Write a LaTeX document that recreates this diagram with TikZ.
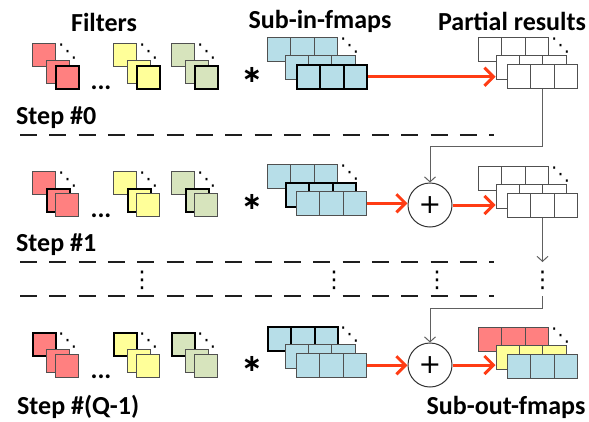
\documentclass[tikz,border=0pt]{standalone}
\usepackage{fontspec}
\newfontfamily\lbl{Carlito}
\newfontfamily\symf{DejaVu Sans}
\usetikzlibrary{arrows.meta,calc}

\definecolor{fred}{HTML}{FF8080}
\definecolor{fyellow}{HTML}{FFFF99}
\definecolor{fgreen}{HTML}{D7E4BD}
\definecolor{fblue}{HTML}{B7DEE8}
\definecolor{edge}{HTML}{505050}
\definecolor{conn}{HTML}{606060}
\definecolor{arrowred}{HTML}{FF3C14}
\definecolor{dashc}{HTML}{1E1E1E}

\tikzset{
  sq/.style={rectangle, minimum size=23pt, inner sep=0pt, anchor=north west},
  cellrow/.style={rectangle, minimum width=70pt, minimum height=23.5pt, inner sep=0pt, anchor=north west},
  edgelite/.style={draw=edge, line width=1pt},
  edgeheavy/.style={draw=black, line width=2pt},
  label/.style={font=\lbl\bfseries\fontsize{26}{30}\selectfont, inner sep=0pt},
  redarrow/.style={draw=arrowred, line width=3pt, -{Straight Barb[length=9pt,width=18pt]}},
  grayarrow/.style={draw=conn, line width=1pt, -{Straight Barb[length=5pt,width=11pt]}},
  dashline/.style={draw=dashc, line width=2.6pt, dash pattern=on 17pt off 12.33pt},
  adder/.style={circle, draw=black!80, line width=1pt, minimum size=44pt, inner sep=0pt, fill=white,
    font=\symf\fontsize{27}{27}\selectfont},
  star/.style={inner sep=0pt, font=\symf\bfseries\fontsize{24}{24}\selectfont},
  vdotstext/.style={inner sep=0pt, font=\symf\fontsize{23}{23}\selectfont},
  ddotstext/.style={inner sep=0pt, font=\symf\fontsize{19}{19}\selectfont},
}

% stack of three square filters: prefix, back corner, fill, back/middle/front styles
\newcommand\sqstack[6]{%
  \node[sq, fill=#3, #4] (#1b) at (#2) {};
  \node[sq, fill=#3, #5] (#1m) at ($(#2)+(14,17)$) {};
  \node[sq, fill=#3, #6] (#1f) at ($(#2)+(23,22)$) {};
  \node[ddotstext] (#1d) at ($(#2)+(35.5,8.5)$) {⋱};
}

% one row of three cells: name, corner, fill, style
\newcommand\cellrow[4]{%
  \node[cellrow, fill=#3, #4] (#1) at (#2) {};
  \draw[#4] ($(#1.north west)!1/3!(#1.north east)$) -- ($(#1.south west)!1/3!(#1.south east)$)
            ($(#1.north west)!2/3!(#1.north east)$) -- ($(#1.south west)!2/3!(#1.south east)$);
}

% stack of three cell rows: prefix, back corner, back/middle/front fills, back/middle/front styles
\newcommand\cellstack[8]{%
  \cellrow{#1b}{#2}{#3}{#6}
  \cellrow{#1m}{$(#2)+(17.5,18)$}{#4}{#7}
  \cellrow{#1f}{$(#2)+(29,27)$}{#5}{#8}
  \node[ddotstext] (#1d) at ($(#2)+(82.5,8.5)$) {⋱};
}

\begin{document}
\begin{tikzpicture}[x=1pt,y=-1pt]
\useasboundingbox (0,0) rectangle (589,421);

% column headings
\node[label] (hfilt) at (104,22) {Filters};
\node[label] (hin)   at (320,21) {Sub-in-fmaps};
\node[label] (hpart) at (512,21) {Partial results};

% ---------- step 0 ----------
\sqstack{r0}{32,43}{fred}{edgelite}{edgelite}{edgeheavy}
\sqstack{y0}{113,43}{fyellow}{edgelite}{edgelite}{edgeheavy}
\sqstack{g0}{171,43}{fgreen}{edgelite}{edgelite}{edgeheavy}
\node[label, anchor=base] (e0) at (101,89) {...};
\node[star] (s0) at (252,75) {∗};
\cellstack{in0}{267,37}{fblue}{fblue}{fblue}{edgelite}{edgelite}{edgeheavy}
\cellstack{pr0}{478,37}{white}{white}{white}{edgelite}{edgelite}{edgelite}
\node[label, anchor=west] (st0) at (16,118) {Step \#0};
\draw[redarrow] (in0f.east) -- (in0f.east -| pr0m.west);
\draw[dashline] (20,135) -- (494,135);

% ---------- step 1 ----------
\sqstack{r1}{32,171}{fred}{edgelite}{edgeheavy}{edgelite}
\sqstack{y1}{113,171}{fyellow}{edgelite}{edgeheavy}{edgelite}
\sqstack{g1}{171,171}{fgreen}{edgelite}{edgeheavy}{edgelite}
\node[label, anchor=base] (e1) at (101,217) {...};
\node[star] (s1) at (252,202) {∗};
\cellstack{in1}{267,164}{fblue}{fblue}{fblue}{edgelite}{edgeheavy}{edgelite}
\node[adder] (plus1) at (430,205) {+};
\cellstack{pr1}{478,166}{white}{white}{white}{edgelite}{edgelite}{edgelite}
\node[label, anchor=west] (st1) at (16,245) {Step \#1};
\draw[redarrow] (in1f.east) -- (in1f.east -| plus1.west);
\draw[redarrow] (plus1.east) -- (plus1.east -| pr1m.west);
\draw[grayarrow] (pr0f.south) -- ++(0,58) -| (plus1.north);
\draw[dashline] (20,262) -- (494,262);
\draw[dashline] (20,296) -- (494,296);

% skipped steps
\coordinate (c1) at (pr1f.south |- 0,262);
\coordinate (c2) at (pr1f.south |- 0,296);
\draw[grayarrow] (pr1f.south) -- (c1);
\node[vdotstext] (v1) at (142,280) {⋮};
\node[vdotstext] (v2) at (334,280) {⋮};
\node[vdotstext] (v3) at (437,280) {⋮};
\node[vdotstext] (v4) at ($(c1)+(0,18)$) {⋮};

% ---------- step Q-1 ----------
\sqstack{rq}{32,332}{fred}{edgeheavy}{edgelite}{edgelite}
\sqstack{yq}{113,332}{fyellow}{edgeheavy}{edgelite}{edgelite}
\sqstack{gq}{171,332}{fgreen}{edgeheavy}{edgelite}{edgelite}
\node[label, anchor=base] (eq) at (101,378) {...};
\node[star] (sq1) at (252,364) {∗};
\cellstack{inq}{267,326}{fblue}{fblue}{fblue}{edgeheavy}{edgelite}{edgelite}
\node[adder] (plus2) at (430,365) {+};
\cellstack{out}{478,327}{fred}{fyellow}{fblue}{edgelite}{edgelite}{edgelite}
\node[label, anchor=west] (stq) at (17,407) {Step \#(Q-1)};
\node[label] (hout) at (506,407) {Sub-out-fmaps};
\draw[redarrow] (inqf.east) -- (inqf.east -| plus2.west);
\draw[redarrow] (plus2.east) -- (plus2.east -| outm.west);
\draw[grayarrow] (c2) -- ++(0,12) -| (plus2.north);
\end{tikzpicture}
\end{document}
